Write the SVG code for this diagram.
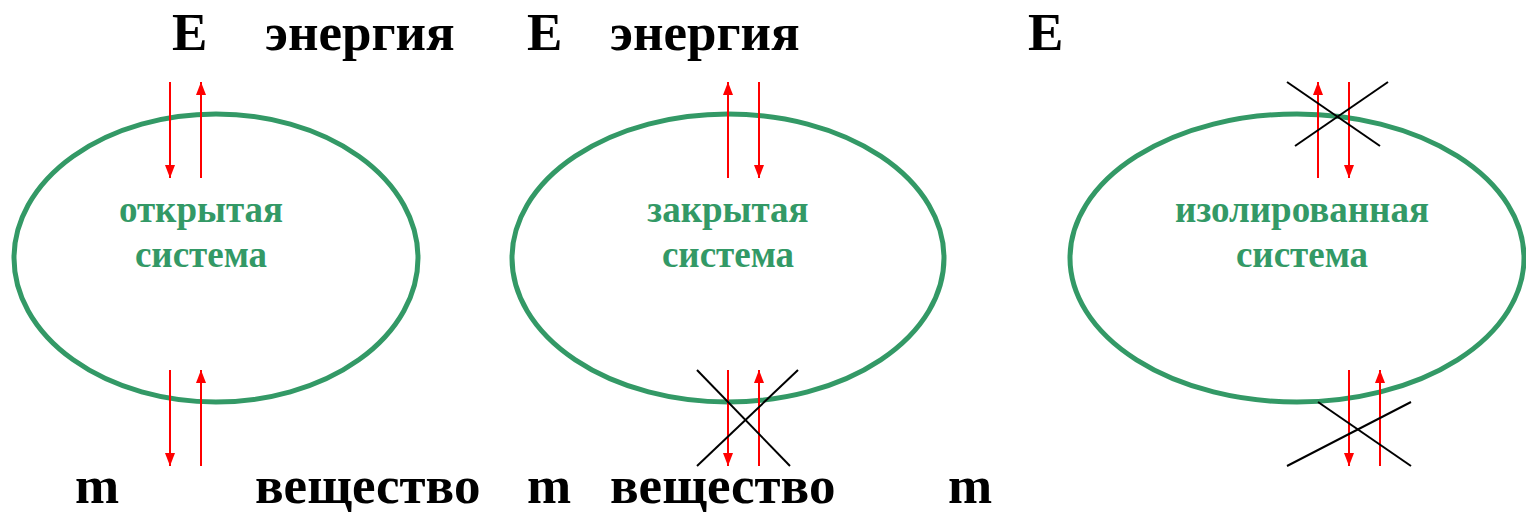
<svg xmlns="http://www.w3.org/2000/svg" width="1526" height="512" viewBox="0 0 1526 512">
<defs>
<marker id="ah" viewBox="0 0 10 10" refX="10" refY="5" markerWidth="6.5" markerHeight="5" markerUnits="strokeWidth" orient="auto" preserveAspectRatio="none">
<path d="M0,0 L10,5 L0,10 z" fill="#ff0000"/>
</marker>
</defs>
<style>
.ell{fill:none;stroke:#339966;stroke-width:5}
.lbl{font-family:"Liberation Serif",serif;font-weight:bold;fill:#339966;font-size:37px;text-anchor:middle}
.big{font-family:"Liberation Serif",serif;font-weight:bold;fill:#000;font-size:53px}
.arr{stroke:#ff0000;stroke-width:2;fill:none;marker-end:url(#ah)}
.x{stroke:#000;stroke-width:2;fill:none}
</style>
<rect width="1526" height="512" fill="#fff"/>
<g id="open">
<ellipse class="ell" cx="216" cy="258" rx="202" ry="144"/>
<text class="lbl" x="201" y="222">открытая</text>
<text class="lbl" x="201" y="267">система</text>
</g>
<g id="closed">
<ellipse class="ell" cx="728" cy="258" rx="216" ry="144"/>
<text class="lbl" x="728" y="222">закрытая</text>
<text class="lbl" x="728" y="267">система</text>
</g>
<g id="isolated">
<ellipse class="ell" cx="1297" cy="258" rx="227" ry="144"/>
<text class="lbl" x="1302" y="222">изолированная</text>
<text class="lbl" x="1302" y="267">система</text>
</g>
<g id="labels">
<text class="big" x="172" y="50">E</text>
<text class="big" x="265" y="50">энергия</text>
<text class="big" x="527" y="50">E</text>
<text class="big" x="610" y="50">энергия</text>
<text class="big" x="1028" y="50">E</text>
<text class="big" x="75" y="503">m</text>
<text class="big" x="255" y="503">вещество</text>
<text class="big" x="527" y="503">m</text>
<text class="big" x="610" y="503">вещество</text>
<text class="big" x="948" y="503">m</text>
</g>
<g id="connectors">
<line class="arr" x1="170" y1="82" x2="170" y2="178"/>
<line class="arr" x1="201" y1="178" x2="201" y2="82"/>
<line class="arr" x1="170" y1="370" x2="170" y2="466"/>
<line class="arr" x1="201" y1="466" x2="201" y2="370"/>
<line class="arr" x1="728" y1="178" x2="728" y2="82"/>
<line class="arr" x1="759" y1="82" x2="759" y2="178"/>
<line class="arr" x1="728" y1="370" x2="728" y2="466"/>
<line class="arr" x1="759" y1="466" x2="759" y2="370"/>
<line class="arr" x1="1318" y1="178" x2="1318" y2="82"/>
<line class="arr" x1="1349" y1="82" x2="1349" y2="178"/>
<line class="arr" x1="1349" y1="370" x2="1349" y2="466"/>
<line class="arr" x1="1380" y1="466" x2="1380" y2="370"/>
<line class="x" x1="697" y1="370" x2="790" y2="466"/>
<line class="x" x1="798" y1="370" x2="697" y2="466"/>
<line class="x" x1="1287" y1="82" x2="1380" y2="146"/>
<line class="x" x1="1388" y1="82" x2="1295" y2="146"/>
<line class="x" x1="1318" y1="402" x2="1411" y2="466"/>
<line class="x" x1="1411" y1="402" x2="1287" y2="466"/>
</g>
</svg>
